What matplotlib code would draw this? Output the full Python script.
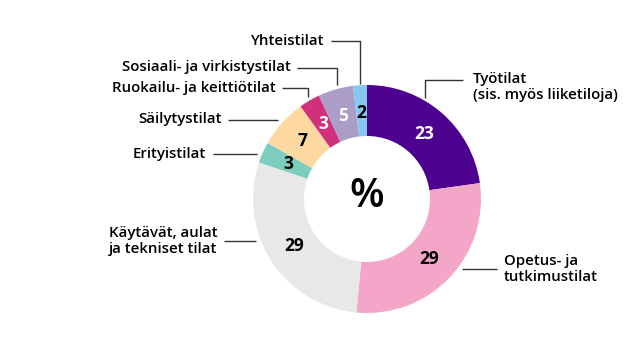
import numpy as np
import matplotlib.pyplot as plt

categories = ["Työtilat\n(sis. myös liiketiloja)", "Opetus- ja\ntutkimustilat",
              "Käytävät, aulat\nja tekniset tilat", "Erityistilat", "Säilytystilat",
              "Ruokailu- ja keittiötilat", "Sosiaali- ja virkistystilat", "Yhteistilat"]
values = [23, 29, 29, 3, 7, 3, 5, 2]
colors = ["#4e008e", "#f4a6c9", "#e8e8e8", "#7ccdbd", "#fdd8a0", "#d1307a", "#ab9dc8", "#86c8ef"]
value_colors = ["white", "black", "black", "black", "black", "white", "white", "black"]

H = 345
cx, cy = 367, H - 199
R, w = 114, 51

plt.rcParams['font.family'] = ['Open Sans', 'DejaVu Sans']
fig = plt.figure(figsize=(6.4, 3.45), dpi=100)
ax = fig.add_axes([0, 0, 1, 1])
ax.axis('off')

wedges, _ = ax.pie(values, colors=colors, startangle=90, counterclock=False,
                   center=(cx, cy), radius=R, wedgeprops=dict(width=w, linewidth=0))
ax.set_xlim(0, 640)
ax.set_ylim(0, H)
ax.set_aspect('equal')

# value labels in the middle of the ring
rmid = R - w / 2 - 2
for wd, v, tc in zip(wedges, values, value_colors):
    a = np.deg2rad((wd.theta1 + wd.theta2) / 2)
    ax.text(cx + rmid * np.cos(a), cy + rmid * np.sin(a), str(v), ha='center', va='center',
            fontsize=12.5, fontweight='bold', color=tc)

ax.text(cx, cy + 2, "%", ha='center', va='center', fontsize=29, fontweight='semibold', color='black')

# leader lines (pixel layout, y from top) and label anchors
leaders = [
    ([(463, 80), (425, 80), (425, 98)], (473, 87), 'left'),
    ([(462, 269), (497, 269)], (504, 269), 'left'),
    ([(224, 241), (256, 241)], (218, 241), 'right'),
    ([(213, 154), (257, 154)], (206, 154), 'right'),
    ([(228, 120), (278, 120)], (222, 119), 'right'),
    ([(282, 88), (308, 88), (308, 97)], (276, 88), 'right'),
    ([(297, 68), (337, 68), (337, 85)], (291, 67), 'right'),
    ([(331, 41), (360, 41), (360, 84)], (324, 41), 'right'),
]
for (pts, (tx, ty), ha), lab in zip(leaders, categories):
    xs = [p[0] for p in pts]
    ys = [H - p[1] for p in pts]
    ax.plot(xs, ys, color='#333333', lw=1.0, solid_capstyle='butt')
    ax.text(tx, H - ty, lab, ha=ha, va='center', multialignment='left', fontsize=10.8,
            fontweight='semibold', color='black', linespacing=1.1)

fig.savefig("out.png", dpi=100)
